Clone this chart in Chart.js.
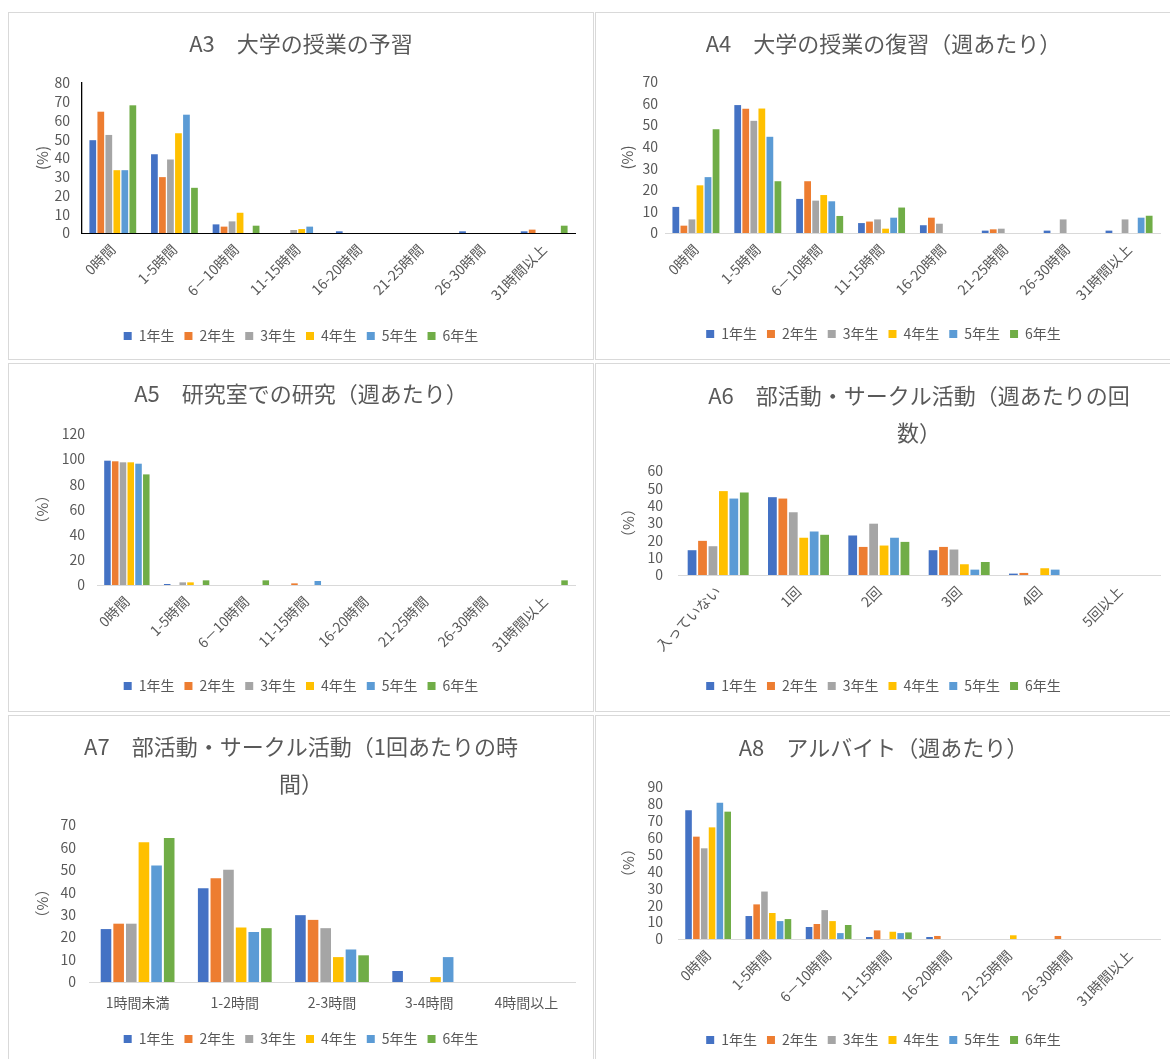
<!DOCTYPE html>
<html lang="ja">
<head>
<meta charset="utf-8">
<script src="https://cdn.jsdelivr.net/npm/chart.js@4.4.1/dist/chart.umd.min.js"></script>
<style>
body { margin: 0; background: #fff; width: 1170px; height: 1059px; overflow: hidden; position: relative; }
.panel { position: absolute; box-sizing: border-box; border: 1px solid #d9d9d9; background: #fff; }
.panel canvas { display: block; }
</style>
</head>
<body>
<div class="panel" style="left:8px;top:12px;width:586px;height:348px"><canvas id="a3" width="584" height="346"></canvas></div>
<div class="panel" style="left:595px;top:12px;width:577px;height:348px"><canvas id="a4" width="575" height="346"></canvas></div>
<div class="panel" style="left:8px;top:363px;width:586px;height:349px"><canvas id="a5" width="584" height="347"></canvas></div>
<div class="panel" style="left:595px;top:363px;width:577px;height:349px"><canvas id="a6" width="575" height="347"></canvas></div>
<div class="panel" style="left:8px;top:715px;width:586px;height:346px"><canvas id="a7" width="584" height="344"></canvas></div>
<div class="panel" style="left:595px;top:715px;width:577px;height:346px"><canvas id="a8" width="575" height="344"></canvas></div>

<script>
Chart.defaults.font.family = "'Noto Sans CJK JP', 'Noto Sans', sans-serif"
Chart.defaults.color = '#595959'

const grades = ['1年生', '2年生', '3年生', '4年生', '5年生', '6年生']
const gradeColors = ['#4472C4', '#ED7D31', '#A5A5A5', '#FFC000', '#5B9BD5', '#70AD47']

const hourLabels = ['0時間', '1-5時間', '6－10時間', '11-15時間', '16-20時間', '21-25時間', '26-30時間', '31時間以上']
const clubCountLabels = ['入っていない', '1回', '2回', '3回', '4回', '5回以上']
const clubTimeLabels = ['1時間未満', '1-2時間', '2-3時間', '3-4時間', '4時間以上']

// one row per grade (1年生 .. 6年生)
const a3Values = [
    [49.5, 42.0, 4.6, 0, 0.9, 0, 0.9, 0.9],
    [64.7, 29.8, 3.4, 0, 0, 0, 0, 1.8],
    [52.3, 39.2, 6.2, 1.6, 0, 0, 0, 0],
    [33.5, 53.2, 10.8, 2.1, 0, 0, 0, 0],
    [33.5, 63.1, 0, 3.4, 0, 0, 0, 0],
    [68.1, 24.1, 3.9, 0, 0, 0, 0, 3.9]
]
const a4Values = [
    [12.1, 59.3, 15.8, 4.6, 3.6, 1.1, 1.1, 1.1],
    [3.4, 57.6, 24.0, 5.3, 7.1, 1.7, 0, 0],
    [6.3, 52.0, 15.0, 6.3, 4.3, 2.0, 6.3, 6.3],
    [22.1, 57.7, 17.6, 2.0, 0, 0, 0, 0],
    [25.9, 44.6, 14.7, 7.1, 0, 0, 0, 7.1],
    [48.1, 24.0, 7.9, 11.8, 0, 0, 0, 8.0]
]
const a5Values = [
    [98.8, 0.8, 0, 0, 0, 0, 0, 0],
    [98.3, 0, 0, 1.3, 0, 0, 0, 0],
    [97.5, 2.1, 0, 0, 0, 0, 0, 0],
    [97.5, 2.1, 0, 0, 0, 0, 0, 0],
    [96.4, 0, 0, 3.2, 0, 0, 0, 0],
    [87.9, 3.7, 3.7, 0, 0, 0, 0, 3.7]
]
const a6Values = [
    [14.3, 44.9, 22.8, 14.3, 0.8, 0],
    [19.7, 44.1, 16.2, 16.2, 1.2, 0],
    [16.6, 36.2, 29.6, 14.7, 0, 0],
    [48.4, 21.5, 17.0, 6.2, 3.9, 0],
    [44.1, 25.1, 21.5, 3.1, 3.1, 0],
    [47.6, 23.2, 19.1, 7.5, 0, 0]
]
const a7Values = [
    [23.6, 41.8, 29.8, 4.9, 0],
    [26.0, 46.3, 27.7, 0, 0],
    [26.0, 50.1, 24.0, 0, 0],
    [62.3, 24.3, 11.1, 2.2, 0],
    [51.9, 22.3, 14.5, 11.1, 0],
    [64.2, 24.0, 11.9, 0, 0]
]
const a8Values = [
    [76.2, 13.6, 7.1, 1.2, 1.2, 0, 0, 0],
    [60.6, 20.5, 8.9, 5.1, 1.8, 0, 1.8, 0],
    [53.7, 28.1, 17.1, 0, 0, 0, 0, 0],
    [66.1, 15.4, 10.6, 4.3, 0, 2.2, 0, 0],
    [80.7, 10.6, 3.5, 3.5, 0, 0, 0, 0],
    [75.4, 11.8, 8.3, 3.9, 0, 0, 0, 0]
]


function drawChart(id, labels, values, o) {
    const canvas = document.getElementById(id)
    const W = canvas.width, H = canvas.height
    const titleLines = Array.isArray(o.title) ? o.title.length : 1
    const titleLH = o.titleLH || 26
    const titlePadTop = o.titleY - titleLH / 2
    const titlePadBottom = o.plotTop - titlePadTop - titleLines * titleLH
    const legendPadBottom = H - 17 - o.legendY
    const xHeight = (H - legendPadBottom - 34) - o.plotBottom
    const axisColor = o.black ? '#000' : '#d9d9d9'

    const data = {
        labels: labels,
        datasets: grades.map((g, i) => ({
            label: g,
            data: values[i],
            backgroundColor: gradeColors[i],
            borderWidth: 0,
            categoryPercentage: 0.78,
            barPercentage: 0.84
        }))
    }

    const options = {
        responsive: false,
        animation: false,
        layout: { padding: { left: 0, right: 0, top: 0, bottom: legendPadBottom } },
        plugins: {
            title: {
                display: true,
                text: o.title,
                color: '#595959',
                font: { size: 22, weight: 'normal', lineHeight: titleLH / 22 },
                padding: { top: titlePadTop, bottom: titlePadBottom }
            },
            legend: {
                position: 'bottom',
                labels: { boxWidth: 8, boxHeight: 8, padding: 10, color: '#595959', font: { size: 14 } }
            },
            tooltip: { enabled: false }
        },
        scales: {
            x: {
                grid: { display: false, drawTicks: false },
                border: { display: true, color: axisColor, width: 1 },
                ticks: {
                    autoSkip: false,
                    minRotation: o.rotate ? 45 : 0,
                    maxRotation: o.rotate ? 45 : 0,
                    padding: o.xPad,
                    font: { size: 14 },
                    color: '#595959'
                },
                afterFit: s => { s.height = xHeight }
            },
            y: {
                min: 0,
                max: o.yMax,
                grid: { display: false, drawTicks: false },
                border: { display: !!o.black, color: '#000', width: 1.3 },
                ticks: { stepSize: o.yStep, autoSkip: false, padding: o.tickPad, font: { size: 14 }, color: '#595959' },
                title: {
                    display: true,
                    text: o.yTitle,
                    color: '#595959',
                    font: { size: 15, lineHeight: 1.2 },
                    padding: { top: o.yTitleX - 9, bottom: 0 }
                },
                afterFit: s => { s.width = o.plotLeft }
            },
            pad: {
                type: 'linear',
                position: 'right',
                display: true,
                grid: { display: false, drawTicks: false },
                border: { display: false },
                ticks: { display: false },
                afterFit: s => { s.width = W - o.plotRight }
            }
        }
    }

    new Chart(canvas, { type: 'bar', data, options })
}

drawChart('a3', hourLabels, a3Values, {
    title: 'A3　大学の授業の予習', yTitle: '(%)', yMax: 80, yStep: 10, rotate: true, black: true,
    plotLeft: 73, plotRight: 566, plotTop: 70, plotBottom: 220,
    titleY: 31, legendY: 323, yTitleX: 33, tickPad: 12, xPad: 8
})
drawChart('a4', hourLabels, a4Values, {
    title: 'A4　大学の授業の復習（週あたり）', yTitle: '(%)', yMax: 70, yStep: 10, rotate: true,
    plotLeft: 69, plotRight: 564, plotTop: 69, plotBottom: 220,
    titleY: 31, legendY: 321, yTitleX: 31, tickPad: 7, xPad: 8
})
drawChart('a5', hourLabels, a5Values, {
    title: 'A5　研究室での研究（週あたり）', yTitle: '（%）', yMax: 120, yStep: 20, rotate: true,
    plotLeft: 88, plotRight: 566, plotTop: 70, plotBottom: 221,
    titleY: 30, legendY: 322, yTitleX: 33, tickPad: 12, xPad: 8
})
drawChart('a6', clubCountLabels, a6Values, {
    title: ['　　　 A6　部活動・サークル活動（週あたりの回', '　　　 数）'], titleLH: 37, yTitle: '（%）', yMax: 60, yStep: 10, rotate: true,
    plotLeft: 82, plotRight: 564, plotTop: 107, plotBottom: 211,
    titleY: 32, legendY: 322, yTitleX: 32, tickPad: 15, xPad: 8
})
drawChart('a7', clubTimeLabels, a7Values, {
    title: ['A7　部活動・サークル活動（1回あたりの時', '間）'], titleLH: 37, yTitle: '（%）', yMax: 70, yStep: 10, rotate: false,
    plotLeft: 80, plotRight: 566, plotTop: 109, plotBottom: 266,
    titleY: 31, legendY: 323, yTitleX: 33, tickPad: 13, xPad: 12
})
drawChart('a8', hourLabels, a8Values, {
    title: 'A8　アルバイト（週あたり）', yTitle: '（%）', yMax: 90, yStep: 10, rotate: true,
    plotLeft: 82, plotRight: 564, plotTop: 71, plotBottom: 223,
    titleY: 32, legendY: 324, yTitleX: 32, tickPad: 15, xPad: 8
})
</script>
</body>
</html>
